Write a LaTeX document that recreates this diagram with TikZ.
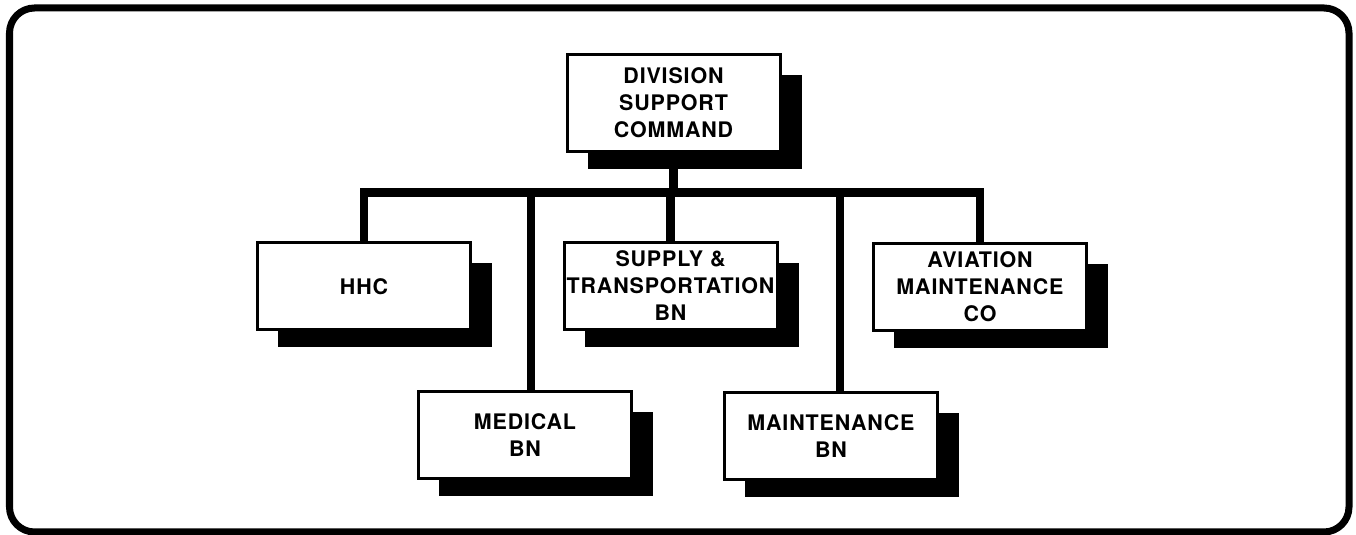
\documentclass[tikz,border=0pt]{standalone}
\usepackage{fontspec}
\setmainfont{TeX Gyre Heros}[LetterSpace=4]
\usetikzlibrary{backgrounds}

\tikzset{
  unit/.style={draw, line width=0.03cm, fill=white, minimum width=2.13cm,
    minimum height=0.87cm, align=center, inner sep=0pt,
    font=\bfseries\fontsize{6.1}{7.7}\selectfont},
  link/.style={line width=0.085cm},
}

\begin{document}
\begin{tikzpicture}
    \useasboundingbox (0,0) rectangle (13.56,-5.35);
    % Frame
    \draw[line width=0.07cm, rounded corners=0.25cm] (0.095,-0.08) rectangle (13.49,-5.32);
    % Nodes
    \node[unit, minimum height=0.97cm] (discom) at (6.735,-1.03) {DIVISION\\SUPPORT\\COMMAND};
    \node[unit] (hhc) at (3.64,-2.865) {HHC};
    \node[unit] (supply) at (6.705,-2.86) {SUPPLY \&\\TRANSPORTATION\\BN};
    \node[unit] (avim) at (9.80,-2.87) {AVIATION\\MAINTENANCE\\CO};
    \node[unit] (med) at (5.25,-4.35) {MEDICAL\\BN};
    \node[unit] (maint) at (8.31,-4.36) {MAINTENANCE\\BN};
    \coordinate (bus) at (6.74,-1.925);
    % Shadows
    \begin{scope}[on background layer]
        \foreach \n in {discom,hhc,supply,avim,med,maint}
            \fill ([shift={(0.22,-0.22)}]\n.north west) rectangle ([shift={(0.2,-0.16)}]\n.south east);
    \end{scope}
    % Lines
    \draw[link] (hhc.north) |- (bus) -| (avim.north);
    \draw[link] (discom.south) -- (discom.south |- bus);
    \draw[link] (supply.north) -- (supply.north |- bus);
    \draw[link] ([xshift=0.06cm]med.north) coordinate (medtop) -- (medtop |- bus);
    \draw[link] ([xshift=0.09cm]maint.north) coordinate (mnttop) -- (mnttop |- bus);
\end{tikzpicture}
\end{document}
